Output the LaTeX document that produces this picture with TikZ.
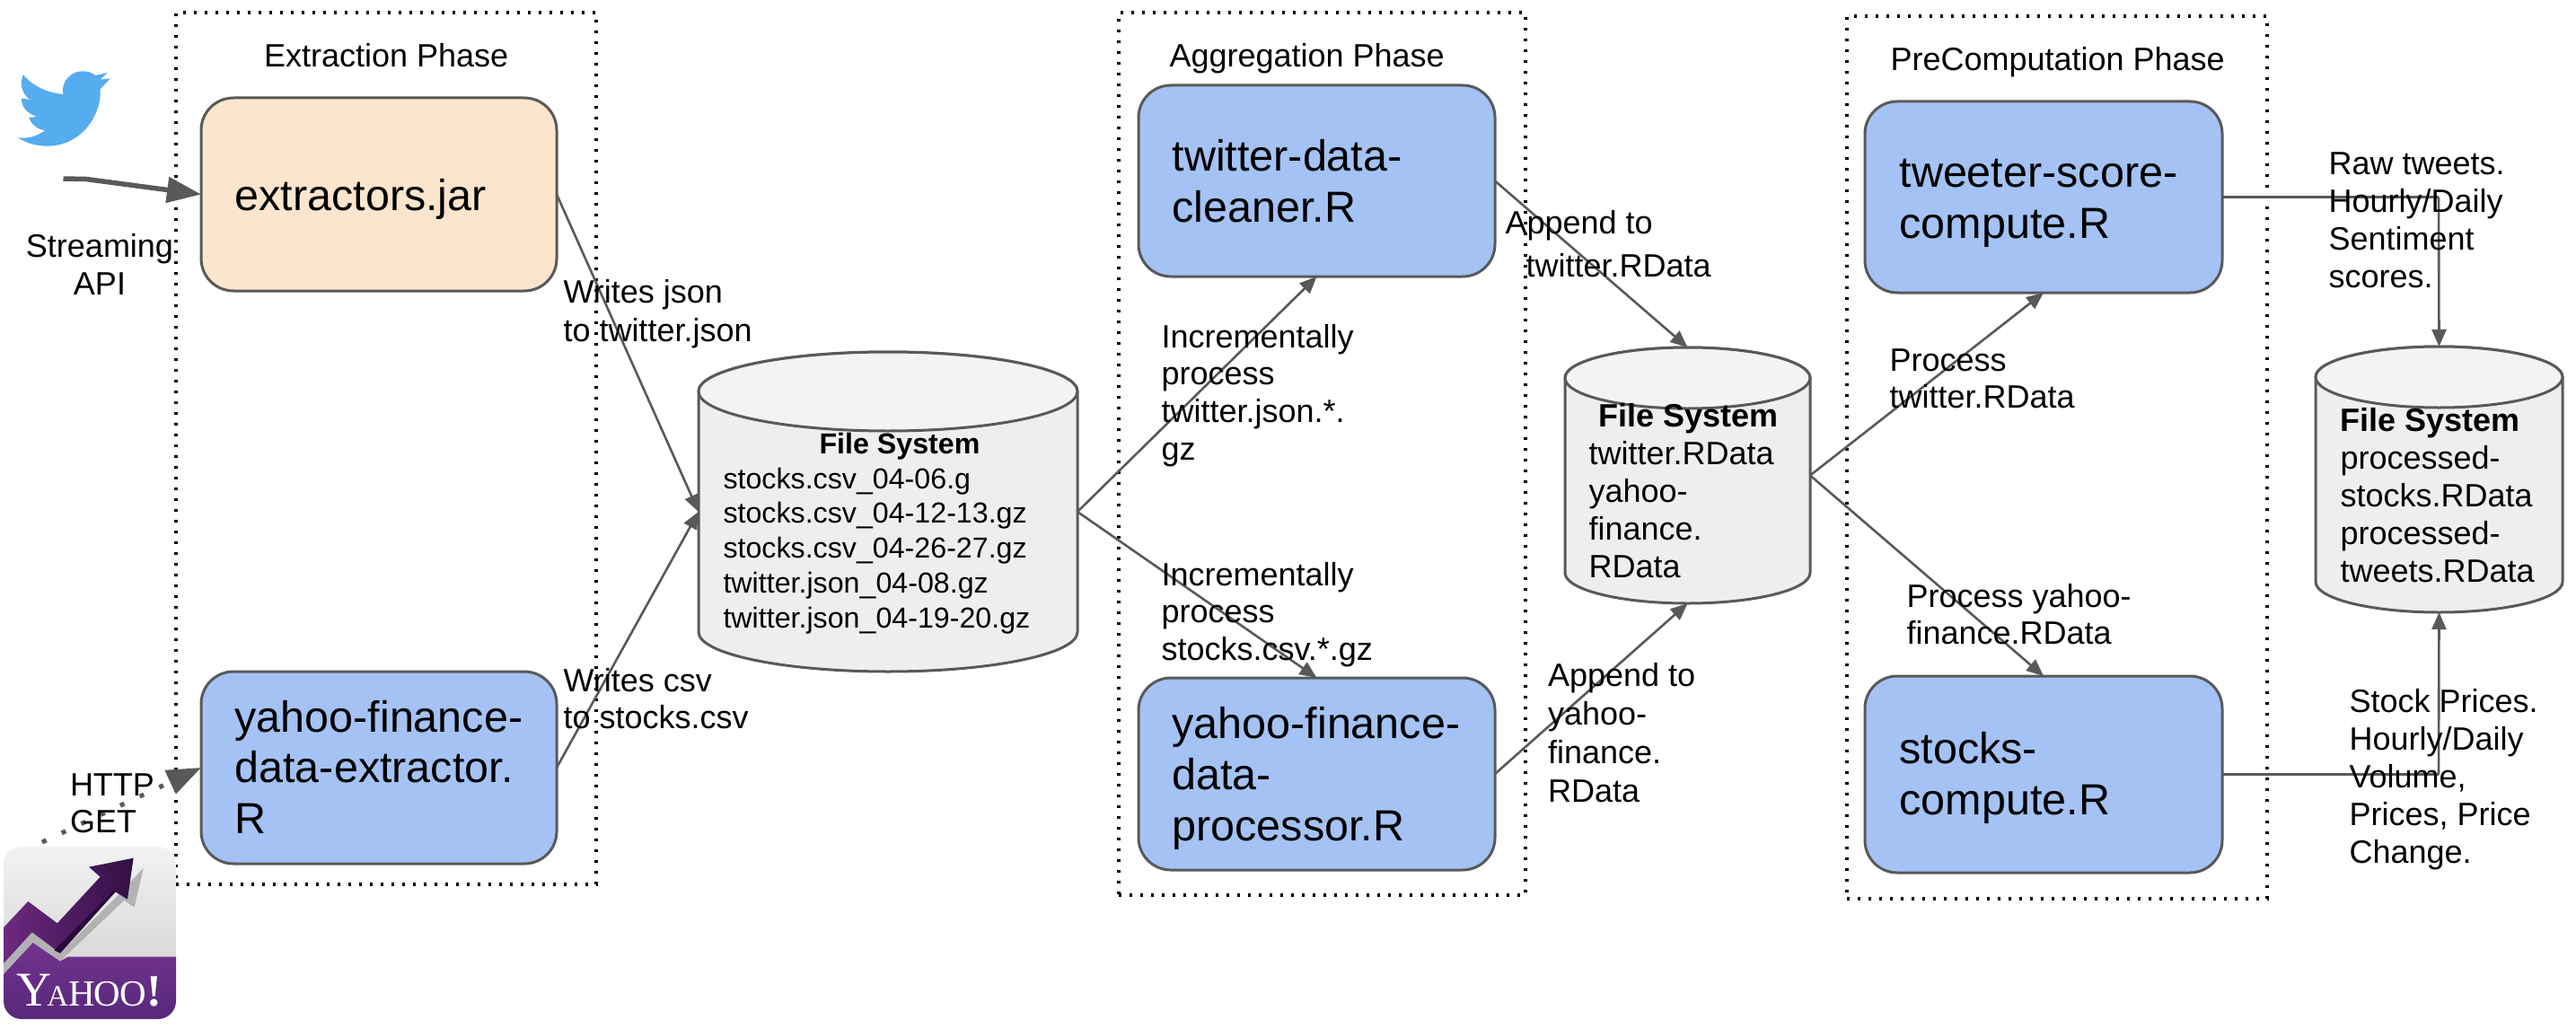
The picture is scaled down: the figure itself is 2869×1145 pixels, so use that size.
\documentclass[tikz,border=0pt]{standalone}
\usepackage{fontspec}
\setmainfont{Liberation Sans}
\newfontfamily\yahoofont{Liberation Serif}
\usetikzlibrary{arrows.meta}
\definecolor{lineg}{HTML}{595959}
\definecolor{boxblue}{HTML}{A4C2F4}
\definecolor{boxorange}{HTML}{FCE5CD}
\definecolor{dbbody}{HTML}{EEEEEE}
\definecolor{dbtop}{HTML}{F3F3F3}
\definecolor{twblue}{HTML}{55ACEE}
\definecolor{yhA}{RGB}{115,51,143}
\definecolor{yhB}{RGB}{86,40,122}
\definecolor{yhC}{RGB}{110,42,130}
\definecolor{yhD}{RGB}{50,15,68}
\definecolor{yhE}{RGB}{42,10,58}
\definecolor{yhS}{RGB}{178,178,178}
\newcommand\ltxt[3]{\fontsize{#1}{#2}\selectfont\begin{tabular}[t]{@{}l@{}}#3\end{tabular}}
\newcommand\ctxt[3]{\fontsize{#1}{#2}\selectfont\begin{tabular}[t]{@{}c@{}}#3\end{tabular}}
\newcommand\placebox[6]{\node[#6,minimum width={(#4-#2)*1pt},minimum height={(#5-#3)*1pt}] (#1) at ({(#2+#4)/2},{(#3+#5)/2}) {};}
\newcommand\cylnode[6]{%
  \draw[cylline,fill=dbbody] (#2,{#3+#6}) arc[start angle=180,end angle=0,x radius={(#4-#2)/2*1pt},y radius={#6*1pt}]
     -- (#4,{#5-#6}) arc[start angle=0,end angle=-180,x radius={(#4-#2)/2*1pt},y radius={#6*1pt}] -- cycle;
  \draw[cylline,fill=dbtop] ({(#2+#4)/2},{#3+#6}) ellipse[x radius={(#4-#2)/2*1pt},y radius={#6*1pt}];
  \placebox{#1}{#2}{#3}{#4}{#5}{anchorbox}}
\tikzset{
  phase/.style={draw=black,line width=3.4pt,dash pattern=on 3.4pt off 8.6pt,inner sep=0,outer sep=0},
  procbox/.style={draw=lineg,line width=3pt,rounded corners=36pt,inner sep=0,outer sep=0},
  anchorbox/.style={inner sep=0,outer sep=0},
  cylline/.style={draw=lineg,line width=3pt},
  conn/.style={draw=lineg,line width=2.6pt,-{Triangle[length=19pt,width=16pt]}},
  plain/.style={draw=lineg,line width=2.6pt},
  lbl/.style={anchor=base west,inner sep=0,outer sep=0,text=black,xshift=-1.5pt},
  clbl/.style={anchor=base,inner sep=0,outer sep=0,text=black}
}
\begin{document}
\begin{tikzpicture}[x=1pt,y=-1pt]
\useasboundingbox (0,0) rectangle (2869,1145);
% phase frames
\placebox{phaseA}{196}{14}{664}{985}{phase}
\placebox{phaseB}{1246}{14}{1699}{997}{phase}
\placebox{phaseC}{2057}{18}{2525}{1001}{phase}
% twitter bird
\begin{scope}[x=0.44643pt,y=-0.33333pt]
\fill[twblue] (158,315) .. controls (150,270) and (180,238) .. (205,238)
  .. controls (222,238) and (232,245) .. (238,252) -- (268,243) -- (250,266) -- (275,262) -- (250,298)
  .. controls (255,380) and (205,488) .. (118,488) .. controls (90,488) and (65,478) .. (45,460)
  .. controls (75,465) and (95,452) .. (113,435) .. controls (95,435) and (78,415) .. (72,393) -- (92,390)
  .. controls (68,380) and (52,355) .. (54,328) -- (75,333)
  .. controls (55,315) and (48,280) .. (58,250) .. controls (80,285) and (115,310) .. (158,315) -- cycle;
\end{scope}
% yahoo logo
\begin{scope}
\path[clip,rounded corners=20pt] (4,943) rectangle (196,1135);
\shade[top color=white!95!black,bottom color=white!85!black] (4,943) rectangle (196,1070);
\begin{scope}[x=0.44643pt,y=-0.33333pt,shift={(0pt,-720pt)}]
\fill[yhS] (8,1060) -- (80,955) -- (150,1025) -- (288,840) -- (358,740) -- (335,872) -- (310,848) -- (150,1052) -- (82,990) -- (8,1095) -- cycle;
\shade[top color=yhA,bottom color=yhB] (0,1108) -- (82,990) -- (150,1052) -- (170,1037) -- (450,1037) -- (450,1250) -- (0,1250) -- cycle;
\shade[left color=yhC,right color=yhD] (0,952) -- (70,852) -- (143,925) -- (250,770) -- (222,737) -- (333,707) -- (318,845) -- (288,820) -- (150,1025) -- (80,955) -- (0,1072) -- cycle;
\fill[yhE] (284,815) -- (135,1015) -- (150,1025) -- (288,820) -- cycle;
\end{scope}
\end{scope}
% process boxes
\placebox{extractor}{224}{109}{620}{324}{procbox,fill=boxorange}
\placebox{yahooext}{224}{748}{620}{962}{procbox,fill=boxblue}
\placebox{cleaner}{1268}{95}{1665}{308}{procbox,fill=boxblue}
\placebox{processor}{1268}{755}{1665}{969}{procbox,fill=boxblue}
\placebox{tweeter}{2077}{113}{2475}{326}{procbox,fill=boxblue}
\placebox{stocks}{2077}{753}{2475}{972}{procbox,fill=boxblue}
% file systems
\cylnode{dbA}{778}{392}{1200}{748}{44}
\cylnode{dbB}{1743}{387}{2016}{672}{34}
\cylnode{dbC}{2579}{386}{2854}{682}{34}
% free ends
\coordinate (twstart) at (70.5,199);
\coordinate (twbend) at (96,199.5);
\coordinate (yhstart) at (47,938);
\coordinate (joinT) at (2716,219.5);
\coordinate (joinS) at (2716,862.5);
% connectors
\draw[conn] (extractor.east) -- (dbA.west);
\draw[conn] (yahooext.east) -- (dbA.west);
\draw[conn] (dbA.east) -- (cleaner.south);
\draw[conn] (dbA.east) -- (processor.north);
\draw[conn] (cleaner.east) -- (dbB.north);
\draw[conn] (processor.east) -- (dbB.south);
\draw[conn] (dbB.east) -- (tweeter.south);
\draw[conn] (dbB.east) -- (stocks.north);
\draw[plain] (tweeter.east) -- (joinT);
\draw[conn] (joinT) -- (dbC.north);
\draw[plain] (stocks.east) -- (joinS);
\draw[conn] (joinS) -- (dbC.south);
\draw[draw=lineg,line width=5.5pt,-{Triangle[length=38pt,width=28pt]}] (twstart) -- (twbend) -- (extractor.west);
\draw[draw=lineg,line width=5pt,dash pattern=on 5pt off 19pt,-{Triangle[length=38pt,width=28pt]}] (yhstart) -- (yahooext.west);
% logo text
\node[clbl,text=white] (yahootxt) at (99,1120) {\yahoofont\fontsize{54}{54}\selectfont Y\kern-5pt\fontsize{33}{33}\selectfont A\fontsize{41}{41}\selectfont H\kern-1pt O\kern-1pt O\fontsize{50}{50}\selectfont\bfseries !};
% titles and labels
\node[lbl] (tA) at (295.5,75) {\ltxt{36}{42}{Extraction Phase}};
\node[lbl] (tB) at (1304,75) {\ltxt{36}{42}{Aggregation Phase}};
\node[lbl] (tC) at (2107,79) {\ltxt{36}{42}{PreComputation Phase}};
\node[clbl] (lStream) at (111,286) {\ctxt{36}{42}{Streaming\\API}};
\node[lbl] (lHttp) at (79.5,886) {\ltxt{36}{41}{HTTP\\GET}};
\node[lbl] (lJson) at (629,337) {\ltxt{36}{43}{Writes json\\to twitter.json}};
\node[lbl] (lCsv) at (629,770) {\ltxt{36}{41}{Writes csv\\to stocks.csv}};
\node[lbl] (lInc1) at (1295,387) {\ltxt{36}{41.7}{Incrementally\\process\\twitter.json.*.\\gz}};
\node[lbl] (lInc2) at (1295,652) {\ltxt{36}{41.7}{Incrementally\\process\\stocks.csv.*.gz}};
\node[lbl] (lApp1) at (1678,260) {\ltxt{36}{48}{Append to\\\hspace*{23pt}twitter.RData}};
\node[lbl] (lApp2) at (1725.5,764) {\ltxt{36}{43}{Append to\\yahoo-\\finance.\\RData}};
\node[lbl] (lPr1) at (2106,413) {\ltxt{36}{41}{Process\\twitter.RData}};
\node[lbl] (lPr2) at (2125,676) {\ltxt{36}{41}{Process yahoo-\\finance.RData}};
\node[lbl] (lRaw) at (2595,194) {\ltxt{36}{42}{Raw tweets.\\Hourly/Daily\\Sentiment\\scores.}};
\node[lbl] (lStock) at (2618,793) {\ltxt{36}{42}{Stock Prices.\\Hourly/Daily\\Volume,\\Prices, Price\\Change.}};
% box texts
\node[lbl] (xA) at (263,234) {\ltxt{48.5}{57}{extractors.jar}};
\node[lbl] (xB) at (263,815) {\ltxt{48.5}{56.5}{yahoo-finance-\\data-extractor.\\R}};
\node[lbl] (xC) at (1307,190) {\ltxt{48.5}{57}{twitter-data-\\cleaner.R}};
\node[lbl] (xD) at (1307,822) {\ltxt{48.5}{57}{yahoo-finance-\\data-\\processor.R}};
\node[lbl] (xE) at (2117,208) {\ltxt{48.5}{57}{tweeter-score-\\compute.R}};
\node[lbl] (xF) at (2117,850) {\ltxt{48.5}{57}{stocks-\\compute.R}};
% file system texts
\node[lbl] (dA0) at (914,505) {\ltxt{32.2}{39}{\textbf{File System}}};
\node[lbl] (dA1) at (807,544) {\ltxt{32.2}{38.8}{stocks.csv\_04-06.g\\stocks.csv\_04-12-13.gz\\stocks.csv\_04-26-27.gz\\twitter.json\_04-08.gz\\twitter.json\_04-19-20.gz}};
\node[lbl] (dB0) at (1782,475) {\ltxt{36}{42}{\textbf{File System}}};
\node[lbl] (dB1) at (1771,517) {\ltxt{36}{42}{twitter.RData\\yahoo-\\finance.\\RData}};
\node[lbl] (dC0) at (2608,480) {\ltxt{36}{42}{\textbf{File System}}};
\node[lbl] (dC1) at (2608,522) {\ltxt{36}{42}{processed-\\stocks.RData\\processed-\\tweets.RData}};
\end{tikzpicture}
\end{document}
